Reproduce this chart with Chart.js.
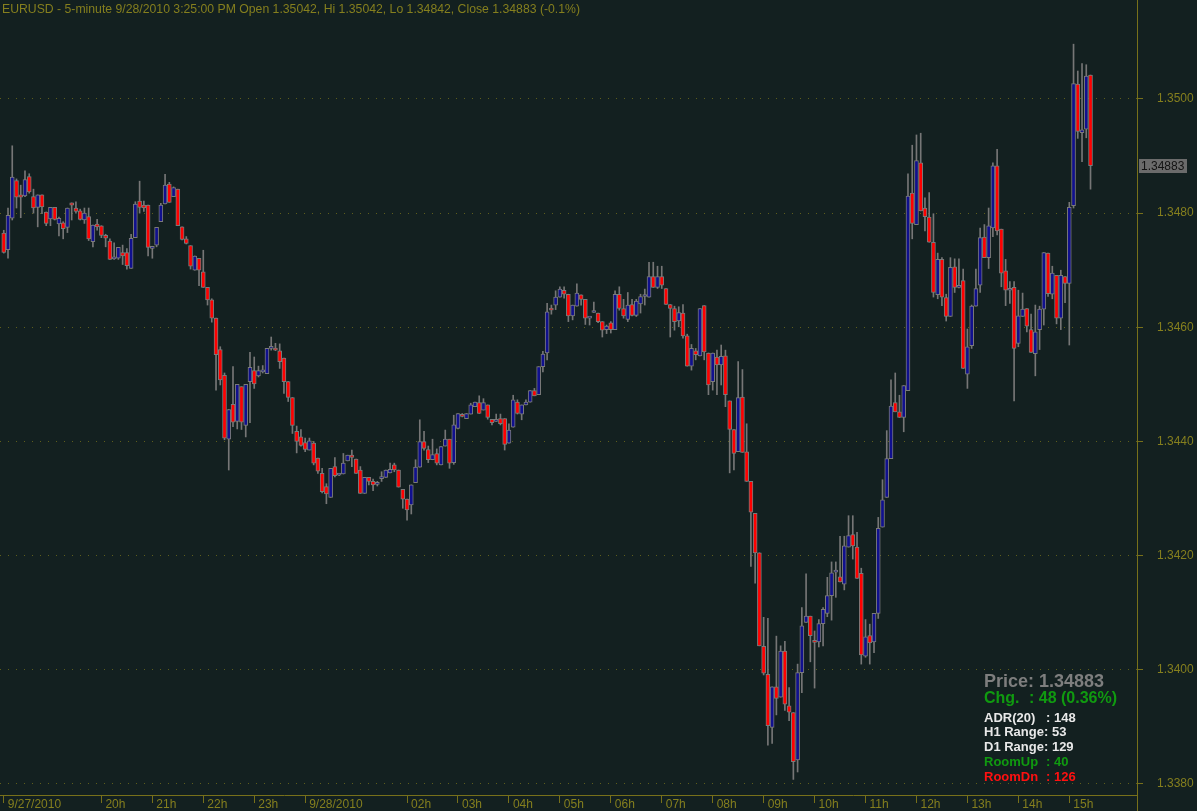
<!DOCTYPE html>
<html><head><meta charset="utf-8">
<script src="https://cdn.jsdelivr.net/npm/chart.js@4.4.0/dist/chart.umd.min.js"></script>
<style>html,body{margin:0;padding:0;background:#132020;overflow:hidden}canvas{display:block}</style>
</head><body>
<canvas id="c" width="1197" height="811"></canvas>
<script>
// EURUSD 5-minute candles, 9/27/2010 18:05 .. 9/28/2010 15:25
const openP = [
1.34765,1.34736,1.34791,1.34857,1.34832,1.34830,1.34864,1.34829,1.34810,1.34832,
1.34802,1.34790,1.34810,1.34781,1.34783,1.34775,1.34818,1.34809,1.34804,1.34788,
1.34794,1.34750,1.34781,1.34778,1.34761,1.34751,1.34720,1.34721,1.34731,1.34731,
1.34703,1.34757,1.34821,1.34814,1.34814,1.34738,1.34744,1.34785,1.34816,1.34851,
1.34829,1.34842,1.34776,1.34755,1.34743,1.34700,1.34721,1.34697,1.34670,1.34648,
1.34616,1.34561,1.34516,1.34404,1.34465,1.34435,1.34496,1.34428,1.34505,1.34524,
1.34515,1.34522,1.34519,1.34563,1.34563,1.34559,1.34546,1.34505,1.34477,1.34418,
1.34408,1.34398,1.34385,1.34397,1.34371,1.34344,1.34321,1.34302,1.34356,1.34341,
1.34343,1.34366,1.34376,1.34369,1.34350,1.34309,1.34337,1.34330,1.34325,1.34335,
1.34337,1.34345,1.34359,1.34350,1.34316,1.34299,1.34289,1.34328,1.34355,1.34400,
1.34386,1.34368,1.34379,1.34359,1.34392,1.34404,1.34363,1.34423,1.34446,1.34440,
1.34448,1.34461,1.34468,1.34455,1.34464,1.34439,1.34435,1.34440,1.34440,1.34397,
1.34425,1.34469,1.34448,1.34464,1.34469,1.34489,1.34482,1.34531,1.34555,1.34633,
1.34639,1.34653,1.34665,1.34658,1.34620,1.34637,1.34657,1.34649,1.34616,1.34626,
1.34625,1.34610,1.34596,1.34608,1.34596,1.34658,1.34633,1.34614,1.34640,1.34621,
1.34641,1.34654,1.34653,1.34689,1.34670,1.34689,1.34668,1.34640,1.34633,1.34611,
1.34625,1.34585,1.34532,1.34559,1.34550,1.34638,1.34555,1.34505,1.34548,1.34534,
1.34550,1.34471,1.34421,1.34382,1.34478,1.34382,1.34330,1.34274,1.34205,1.34041,
1.33992,1.33899,1.33970,1.33952,1.34033,1.33937,1.33925,1.33842,1.33995,1.34083,
1.34094,1.34051,1.34049,1.34081,1.34099,1.34130,1.34171,1.34163,1.34150,1.34215,
1.34237,1.34215,1.34169,1.34024,1.34060,1.34049,1.34099,1.34250,1.34302,1.34370,
1.34468,1.34452,1.34442,1.34489,1.34835,1.34780,1.34888,1.34809,1.34793,1.34749,
1.34657,1.34719,1.34652,1.34619,1.34706,1.34670,1.34682,1.34518,1.34568,1.34637,
1.34674,1.34758,1.34722,1.34774,1.34883,1.34772,1.34699,1.34665,1.34670,1.34572,
1.34619,1.34633,1.34596,1.34554,1.34596,1.34632,1.34730,1.34658,1.34691,1.34616,
1.34689,1.34677,1.34813,1.35026,1.34941,1.34947,1.35042];
const highP = [
1.34770,1.34809,1.34918,1.34860,1.34849,1.34874,1.34869,1.34842,1.34832,1.34832,
1.34802,1.34810,1.34810,1.34793,1.34785,1.34809,1.34818,1.34820,1.34807,1.34809,
1.34809,1.34779,1.34789,1.34778,1.34763,1.34755,1.34748,1.34740,1.34744,1.34738,
1.34763,1.34820,1.34856,1.34821,1.34814,1.34742,1.34775,1.34817,1.34868,1.34854,
1.34846,1.34842,1.34776,1.34759,1.34743,1.34725,1.34721,1.34735,1.34670,1.34650,
1.34616,1.34566,1.34520,1.34456,1.34531,1.34500,1.34496,1.34500,1.34556,1.34548,
1.34532,1.34533,1.34563,1.34583,1.34572,1.34571,1.34546,1.34505,1.34477,1.34427,
1.34421,1.34406,1.34406,1.34400,1.34371,1.34353,1.34326,1.34353,1.34372,1.34344,
1.34379,1.34376,1.34385,1.34369,1.34356,1.34337,1.34337,1.34334,1.34330,1.34347,
1.34350,1.34362,1.34362,1.34350,1.34316,1.34299,1.34324,1.34368,1.34438,1.34418,
1.34392,1.34404,1.34387,1.34391,1.34420,1.34404,1.34446,1.34449,1.34449,1.34449,
1.34467,1.34469,1.34480,1.34475,1.34464,1.34439,1.34448,1.34448,1.34440,1.34431,
1.34481,1.34473,1.34464,1.34473,1.34489,1.34493,1.34531,1.34558,1.34642,1.34639,
1.34664,1.34671,1.34671,1.34658,1.34639,1.34676,1.34657,1.34649,1.34616,1.34644,
1.34625,1.34610,1.34604,1.34610,1.34664,1.34671,1.34649,1.34661,1.34649,1.34649,
1.34658,1.34667,1.34714,1.34714,1.34707,1.34707,1.34668,1.34640,1.34637,1.34636,
1.34640,1.34588,1.34570,1.34563,1.34633,1.34638,1.34555,1.34555,1.34560,1.34569,
1.34560,1.34471,1.34421,1.34540,1.34526,1.34431,1.34330,1.34274,1.34205,1.34092,
1.34090,1.33970,1.34059,1.34042,1.34050,1.33969,1.33925,1.34010,1.34109,1.34168,
1.34094,1.34068,1.34088,1.34109,1.34162,1.34189,1.34189,1.34234,1.34234,1.34270,
1.34270,1.34241,1.34178,1.34088,1.34080,1.34099,1.34267,1.34333,1.34419,1.34508,
1.34520,1.34481,1.34498,1.34869,1.34919,1.34937,1.34940,1.34827,1.34836,1.34799,
1.34730,1.34722,1.34658,1.34722,1.34720,1.34720,1.34702,1.34597,1.34639,1.34702,
1.34774,1.34780,1.34809,1.34888,1.34912,1.34772,1.34719,1.34680,1.34680,1.34665,
1.34660,1.34633,1.34623,1.34639,1.34637,1.34731,1.34730,1.34707,1.34691,1.34700,
1.34689,1.34819,1.35096,1.35049,1.35062,1.35060,1.35042];
const lowP = [
1.34730,1.34721,1.34788,1.34809,1.34792,1.34829,1.34835,1.34800,1.34776,1.34799,
1.34778,1.34778,1.34788,1.34760,1.34755,1.34766,1.34788,1.34800,1.34788,1.34782,
1.34752,1.34741,1.34770,1.34757,1.34741,1.34719,1.34719,1.34719,1.34710,1.34702,
1.34703,1.34757,1.34800,1.34803,1.34725,1.34721,1.34741,1.34785,1.34816,1.34819,
1.34829,1.34778,1.34753,1.34746,1.34702,1.34700,1.34673,1.34670,1.34639,1.34609,
1.34490,1.34499,1.34403,1.34350,1.34426,1.34422,1.34421,1.34408,1.34433,1.34493,
1.34513,1.34520,1.34519,1.34560,1.34559,1.34528,1.34484,1.34470,1.34414,1.34380,
1.34392,1.34382,1.34385,1.34359,1.34344,1.34310,1.34291,1.34302,1.34338,1.34340,
1.34343,1.34366,1.34356,1.34344,1.34309,1.34309,1.34324,1.34314,1.34322,1.34330,
1.34337,1.34345,1.34347,1.34320,1.34283,1.34262,1.34273,1.34328,1.34355,1.34385,
1.34363,1.34368,1.34359,1.34359,1.34392,1.34353,1.34360,1.34422,1.34443,1.34440,
1.34448,1.34461,1.34449,1.34455,1.34439,1.34429,1.34435,1.34429,1.34385,1.34397,
1.34425,1.34448,1.34438,1.34464,1.34469,1.34480,1.34482,1.34522,1.34543,1.34623,
1.34631,1.34653,1.34651,1.34610,1.34613,1.34637,1.34639,1.34605,1.34604,1.34626,
1.34608,1.34583,1.34589,1.34590,1.34596,1.34630,1.34616,1.34610,1.34620,1.34619,
1.34625,1.34639,1.34653,1.34670,1.34668,1.34668,1.34640,1.34583,1.34595,1.34601,
1.34581,1.34532,1.34525,1.34543,1.34550,1.34543,1.34482,1.34490,1.34482,1.34499,
1.34461,1.34345,1.34350,1.34382,1.34381,1.34330,1.34181,1.34152,1.34042,1.33991,
1.33868,1.33871,1.33921,1.33952,1.33929,1.33911,1.33808,1.33821,1.33960,1.34083,
1.34014,1.33968,1.34040,1.34042,1.34093,1.34087,1.34127,1.34154,1.34140,1.34215,
1.34194,1.34160,1.34010,1.34022,1.34010,1.34030,1.34090,1.34250,1.34302,1.34370,
1.34452,1.34442,1.34417,1.34489,1.34755,1.34780,1.34804,1.34769,1.34749,1.34653,
1.34650,1.34638,1.34611,1.34619,1.34661,1.34669,1.34528,1.34493,1.34563,1.34637,
1.34661,1.34722,1.34703,1.34759,1.34762,1.34671,1.34638,1.34642,1.34471,1.34566,
1.34619,1.34592,1.34556,1.34515,1.34561,1.34604,1.34654,1.34650,1.34606,1.34596,
1.34643,1.34569,1.34809,1.34931,1.34890,1.34932,1.34842];
const closeP = [
1.34731,1.34796,1.34863,1.34828,1.34828,1.34859,1.34837,1.34809,1.34832,1.34811,
1.34782,1.34810,1.34789,1.34791,1.34773,1.34809,1.34814,1.34803,1.34789,1.34800,
1.34755,1.34779,1.34776,1.34761,1.34756,1.34719,1.34721,1.34740,1.34725,1.34708,
1.34756,1.34816,1.34810,1.34809,1.34740,1.34742,1.34775,1.34814,1.34849,1.34819,
1.34845,1.34778,1.34754,1.34747,1.34707,1.34725,1.34700,1.34670,1.34648,1.34616,
1.34552,1.34508,1.34406,1.34456,1.34434,1.34500,1.34434,1.34500,1.34530,1.34501,
1.34524,1.34525,1.34563,1.34563,1.34560,1.34540,1.34505,1.34477,1.34428,1.34400,
1.34393,1.34386,1.34401,1.34362,1.34348,1.34312,1.34308,1.34353,1.34340,1.34344,
1.34362,1.34376,1.34372,1.34344,1.34309,1.34337,1.34330,1.34324,1.34325,1.34335,
1.34350,1.34351,1.34350,1.34320,1.34299,1.34280,1.34324,1.34355,1.34400,1.34388,
1.34368,1.34377,1.34362,1.34391,1.34404,1.34362,1.34429,1.34449,1.34444,1.34449,
1.34464,1.34469,1.34449,1.34468,1.34442,1.34433,1.34439,1.34431,1.34395,1.34420,
1.34473,1.34449,1.34464,1.34469,1.34489,1.34480,1.34531,1.34553,1.34627,1.34630,
1.34653,1.34667,1.34658,1.34620,1.34639,1.34660,1.34649,1.34616,1.34616,1.34626,
1.34610,1.34595,1.34602,1.34596,1.34658,1.34633,1.34620,1.34639,1.34621,1.34646,
1.34654,1.34654,1.34689,1.34670,1.34689,1.34674,1.34640,1.34633,1.34610,1.34626,
1.34585,1.34532,1.34563,1.34552,1.34633,1.34557,1.34499,1.34555,1.34534,1.34549,
1.34482,1.34421,1.34379,1.34477,1.34381,1.34330,1.34276,1.34205,1.34042,1.33994,
1.33902,1.33970,1.33950,1.34033,1.33940,1.33926,1.33839,1.33995,1.34077,1.34094,
1.34060,1.34048,1.34081,1.34106,1.34130,1.34170,1.34171,1.34154,1.34217,1.34235,
1.34217,1.34160,1.34026,1.34058,1.34047,1.34099,1.34248,1.34298,1.34370,1.34462,
1.34452,1.34442,1.34498,1.34830,1.34782,1.34892,1.34804,1.34794,1.34749,1.34661,
1.34719,1.34653,1.34619,1.34705,1.34670,1.34670,1.34528,1.34566,1.34637,1.34668,
1.34757,1.34722,1.34778,1.34883,1.34769,1.34695,1.34665,1.34668,1.34563,1.34620,
1.34632,1.34602,1.34556,1.34592,1.34632,1.34731,1.34659,1.34695,1.34616,1.34691,
1.34677,1.34810,1.35027,1.34943,1.34946,1.35040,1.34883];

// time-axis labels (candle index of each labelled bar)
const tickIndex = [0,23,35,47,59,71,95,107,119,131,143,155,167,179,191,203,215,227,239,251];
const tickText = ["9/27/2010","20h","21h","22h","23h","9/28/2010","02h","03h","04h","05h","06h","07h","08h","09h","10h","11h","12h","13h","14h","15h"];
// price-axis labels
const priceTicks = [1.3380,1.3400,1.3420,1.3440,1.3460,1.3480,1.3500];

const headerText = "EURUSD - 5-minute 9/28/2010 3:25:00 PM Open 1.35042, Hi 1.35042, Lo 1.34842, Close 1.34883 (-0.1%)";
const infoPrice = "Price: 1.34883";
const infoChg = ["Chg.", ": 48 (0.36%)"];
const infoRows = [["ADR(20)", ": 148"], ["H1 Range: 53", ""], ["D1 Range: 129", ""], ["RoomUp", ": 40"], ["RoomDn", ": 126"]];

const BG = '#132020', AXIS = '#77701a', TXT = '#857f1e', GRID = '#5e5e1c';
const RED = '#ff0000', BLUE = '#10108e', EDGE = '#7a7a7a', WICK = '#767676';
const AXFONT = "'Liberation Sans',Arial,sans-serif";

const bodies = openP.map((o, i) => ({x: i, y: [o, closeP[i]]}));
const wicks = lowP.map((l, i) => ({x: i, y: [l, highP[i]]}));
const bodyColors = openP.map((o, i) => closeP[i] < o ? RED : BLUE);

const bgPlugin = {
  id: 'bg',
  beforeDraw(chart) {
    const c = chart.ctx;
    c.save(); c.fillStyle = BG; c.fillRect(0, 0, chart.width, chart.height); c.restore();
  }
};

const overlay = {
  id: 'overlay',
  afterDraw(chart) {
    const c = chart.ctx, ya = chart.scales.y, ca = chart.chartArea;
    c.save();
    // axis extension below the time axis
    c.strokeStyle = AXIS; c.lineWidth = 1;
    c.beginPath(); c.moveTo(Math.round(ca.right) + 0.5, ca.bottom); c.lineTo(Math.round(ca.right) + 0.5, chart.height); c.stroke();
    // header
    c.font = "13px 'Liberation Sans',sans-serif";
    c.fillStyle = TXT; c.textBaseline = 'alphabetic'; c.textAlign = 'left';
    const w = c.measureText(headerText).width;
    c.save(); c.translate(2, 12.5); c.scale(578 / w, 1); c.fillText(headerText, 0, 0); c.restore();
    // last price tag
    const last = closeP[closeP.length - 1];
    const py = Math.round(ya.getPixelForValue(last));
    c.fillStyle = '#6b6b6b';
    c.fillRect(ca.right + 2, py - 7, 48, 14);
    c.fillStyle = '#121212'; c.font = "12px " + AXFONT; c.textBaseline = 'middle';
    c.fillText(last.toFixed(5), ca.right + 4, py + 0.5);
    // info block
    c.textBaseline = 'alphabetic';
    c.font = "bold 18px 'Liberation Sans',sans-serif"; c.fillStyle = '#7e7e7e';
    c.fillText(infoPrice, 984, 687);
    c.font = "bold 16px 'Liberation Sans',sans-serif"; c.fillStyle = '#109a10';
    c.fillText(infoChg[0], 984, 703); c.fillText(infoChg[1], 1029, 703);
    const rowColors = ['#e8e8e8', '#e8e8e8', '#e8e8e8', '#109a10', '#ff1010'];
    c.font = "bold 13px 'Liberation Sans',sans-serif";
    infoRows.forEach((r, k) => {
      const y = 721.5 + k * 14.9;
      c.fillStyle = rowColors[k];
      c.fillText(r[0], 984, y);
      if (r[1]) c.fillText(r[1], 1046, y);
    });
    c.restore();
  }
};

new Chart(document.getElementById('c'), {
  type: 'bar',
  data: {
    datasets: [
      {label: 'wick', data: wicks, backgroundColor: WICK, borderWidth: 0, barThickness: 1, grouped: false, order: 2},
      {label: 'body', data: bodies, backgroundColor: bodyColors, borderColor: EDGE, borderWidth: 1,
       borderSkipped: false, barThickness: 4, minBarLength: 2, grouped: false, order: 1}
    ]
  },
  options: {
    responsive: false, animation: false, devicePixelRatio: 1,
    layout: {padding: 0, autoPadding: false},
    plugins: {legend: {display: false}, tooltip: {enabled: false}, title: {display: false}},
    scales: {
      x: {
        type: 'linear', min: -0.886, max: 266.95, offset: false,
        afterBuildTicks: s => { s.ticks = tickIndex.map(v => ({value: v})); },
        afterFit: s => { s.height = 16; s.paddingLeft = 0; s.paddingRight = 0; },
        grid: {display: true, drawOnChartArea: false, drawTicks: true, tickLength: 8, color: AXIS, offset: false},
        border: {display: true, color: AXIS, width: 1},
        ticks: {
          autoSkip: false, maxRotation: 0, minRotation: 0, align: 'start', labelOffset: 4, padding: -6,
          color: TXT, font: {family: AXFONT, size: 12},
          callback: v => { const k = tickIndex.indexOf(v); return k >= 0 ? tickText[k] : ''; }
        }
      },
      y: {
        type: 'linear', position: 'right', min: 1.337807, max: 1.351734,
        afterBuildTicks: s => { s.ticks = priceTicks.map(v => ({value: v})); },
        afterFit: s => { s.width = 60; s.paddingTop = 0; s.paddingBottom = 0; },
        grid: {display: true, drawOnChartArea: true, drawTicks: true, tickLength: 6, color: GRID, tickColor: AXIS, tickBorderDash: []},
        border: {display: true, color: AXIS, width: 1, dash: [1, 7]},
        ticks: {color: TXT, padding: 14, font: {family: AXFONT, size: 12}, callback: v => v.toFixed(4)}
      }
    }
  },
  plugins: [bgPlugin, overlay]
});
</script>
</body></html>
